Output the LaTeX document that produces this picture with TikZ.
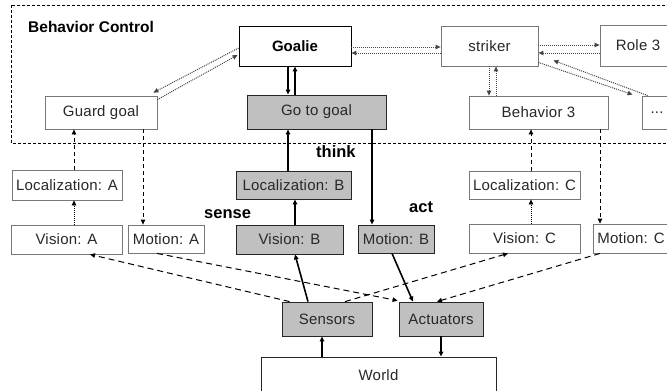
\documentclass[tikz,border=0pt]{standalone}
\usepackage{fontspec}
\setmainfont{Liberation Sans}
\newfontfamily\boxfont[LetterSpace=1.5]{Liberation Sans}
\usetikzlibrary{arrows.meta}
\definecolor{boxgrey}{RGB}{192,192,192}
\definecolor{edgegrey}{RGB}{120,120,120}
\definecolor{dotgrey}{RGB}{70,70,70}
\definecolor{textgrey}{RGB}{40,40,40}
\tikzset{
  wbox/.style={draw=edgegrey, fill=white, line width=0.8pt, inner sep=0pt, text=textgrey,
    font=\boxfont\fontsize{15}{15}\selectfont},
  gbox/.style={wbox, draw=black!85, fill=boxgrey},
  tip/.style={-{Triangle[length=5pt,width=4.5pt]}},
  strong/.style={tip, line width=1.6pt},
  behlink/.style={tip, line width=1pt, draw=dotgrey, dash pattern=on 1pt off 1pt},
  perlink/.style={tip, line width=0.8pt, dash pattern=on 1pt off 1pt},
  ctrlink/.style={tip, line width=0.9pt, dash pattern=on 4pt off 3pt},
  iolink/.style={tip, line width=1pt, dash pattern=on 6pt off 4pt},
  boldlabel/.style={font=\bfseries\fontsize{16.5}{16.5}\selectfont, inner sep=0pt, anchor=base west}
}
\begin{document}
\begin{tikzpicture}[x=1pt,y=-1pt]
\clip (0,0) rectangle (667,391);
\fill[white] (0,0) rectangle (667,391);
% behavior control frame
\draw[line width=0.7pt, dash pattern=on 3pt off 2pt] (11,5) rectangle (700,143);
\node[boldlabel, font=\bfseries\fontsize{15.5}{15.5}\selectfont] (bc) at (28,32.3) {Behavior Control};

% boxes
\node[wbox, draw=black, text=black, minimum width=112pt, minimum height=40pt,
      font=\bfseries\fontsize{15}{15}\selectfont] (goalie) at (295,46) {Goalie};
\node[wbox, minimum width=97pt, minimum height=40pt] (striker) at (489.5,46) {striker};
\node[wbox, minimum width=76pt, minimum height=41pt] (role3) at (638,45.5) {Role 3};
\node[wbox, minimum width=112pt, minimum height=33pt] (guard) at (101,112.5) {Guard goal};
\node[gbox, minimum width=139pt, minimum height=34pt] (gotogoal) at (316.5,112) {Go to goal};
\node[wbox, minimum width=139pt, minimum height=33pt] (beh3) at (538.5,112.5) {Behavior 3};
\node[wbox, minimum width=30pt, minimum height=33pt] (dots) at (657,112.5) {...};

\node[wbox, minimum width=110pt, minimum height=30pt] (locA) at (67,185) {Localization: A};
\node[gbox, minimum width=115pt, minimum height=28pt] (locB) at (293.5,185) {Localization: B};
\node[wbox, minimum width=111pt, minimum height=28pt] (locC) at (524.5,185) {Localization: C};

\node[wbox, minimum width=111pt, minimum height=29pt] (visA) at (66.5,239.5) {Vision: A};
\node[wbox, minimum width=76pt, minimum height=28pt] (motA) at (166,239) {Motion: A};
\node[gbox, minimum width=107pt, minimum height=29pt] (visB) at (289.5,239.5) {Vision: B};
\node[gbox, minimum width=76pt, minimum height=28pt] (motB) at (396,239) {Motion: B};
\node[wbox, minimum width=111pt, minimum height=29pt] (visC) at (524.5,238.5) {Vision: C};
\node[wbox, minimum width=76pt, minimum height=29pt] (motC) at (631,238.5) {Motion: C};

\node[gbox, minimum width=90pt, minimum height=34pt] (sensors) at (327,319) {Sensors};
\node[gbox, minimum width=84pt, minimum height=34pt] (actuators) at (441,319) {Actuators};
\node[wbox, draw=black!85, minimum width=235pt, minimum height=36pt] (world) at (378.5,375) {World};

% labels
\node[boldlabel] (think) at (316,157.3) {think};
\node[boldlabel] (sense) at (204,218.3) {sense};
\node[boldlabel] (act) at (409,212.7) {act};

% behaviour layer links
\draw[strong] ([xshift=-7pt]goalie.south) -- ([xshift=-7pt]goalie.south |- gotogoal.north);
\draw[strong] ([xshift=-21.5pt]gotogoal.north) -- ([xshift=-21.5pt]gotogoal.north |- goalie.south);
\draw[behlink] ([yshift=-1pt]goalie.east) -- ([yshift=-1pt]goalie.east -| striker.west);
\draw[behlink] ([yshift=-7pt]striker.west) -- ([yshift=-7pt]striker.west -| goalie.east);
\draw[behlink] ([yshift=1pt]striker.east) -- ([yshift=1pt]striker.east -| role3.west);
\draw[behlink] ([yshift=-7.5pt]role3.west) -- ([yshift=-7.5pt]role3.west -| striker.east);
\draw[behlink] ([xshift=-0.5pt]striker.south) -- ([xshift=-0.5pt]striker.south |- beh3.north);
\draw[behlink] ([xshift=6.5pt]striker.south |- beh3.north) -- ([xshift=6.5pt]striker.south);
\draw[behlink] ([yshift=4pt]striker.south east) -- ([xshift=-9pt,yshift=1pt]dots.north west);
\draw[behlink] ([xshift=6pt]dots.north west) -- ([xshift=15pt,yshift=6pt]striker.south east);
\draw[behlink] ([yshift=-2pt]goalie.west) -- ([xshift=-4pt,yshift=3pt]guard.north east);
\draw[behlink] ([yshift=-4pt]guard.north east) -- ([xshift=-1pt,yshift=-9pt]goalie.west);

% A chain
\draw[ctrlink] ([xshift=7pt]locA.north) -- ([xshift=7pt]locA.north |- guard.south);
\draw[ctrlink] ([xshift=42pt]guard.south) -- ([xshift=42pt]guard.south |- motA.north);
\draw[perlink] ([xshift=7.5pt]visA.north) -- ([xshift=7.5pt]visA.north |- locA.south);

% B chain
\draw[strong] ([xshift=-5.5pt]locB.north) -- ([xshift=-5.5pt]locB.north |- gotogoal.south);
\draw[strong] ([xshift=5.5pt]visB.north) -- ([xshift=5.5pt]visB.north |- locB.south);
\draw[strong] ([xshift=55.5pt]gotogoal.south) -- ([xshift=55.5pt]gotogoal.south |- motB.north);

% C chain
\draw[ctrlink] ([xshift=6.5pt]locC.north) -- ([xshift=6.5pt]locC.north |- beh3.south);
\draw[perlink] ([xshift=6.5pt]visC.north) -- ([xshift=6.5pt]visC.north |- locC.south);
\draw[ctrlink] ([xshift=61.5pt]beh3.south) -- ([xshift=61.5pt]beh3.south |- motC.north);

% sensors / actuators
\draw[iolink] ([xshift=8pt]sensors.north west) -- ([xshift=23.5pt]visA.south);
\draw[iolink] ([xshift=-9pt]motA.south) -- ([xshift=-1pt,yshift=1pt]actuators.north west);
\draw[iolink] ([xshift=18pt]sensors.north) -- ([xshift=-16.5pt]visC.south);
\draw[iolink] ([xshift=-31pt]motC.south) -- ([xshift=-4pt]actuators.north);
\draw[strong] ([xshift=-19pt]sensors.north) -- ([xshift=5.5pt]visB.south);
\draw[strong] ([xshift=-4pt]motB.south) -- ([xshift=-28pt]actuators.north);
\draw[strong] ([xshift=-56.5pt]world.north) -- ([xshift=-56.5pt]world.north |- sensors.south);
\draw[strong] (actuators.south) -- (actuators.south |- world.north);
\end{tikzpicture}
\end{document}
